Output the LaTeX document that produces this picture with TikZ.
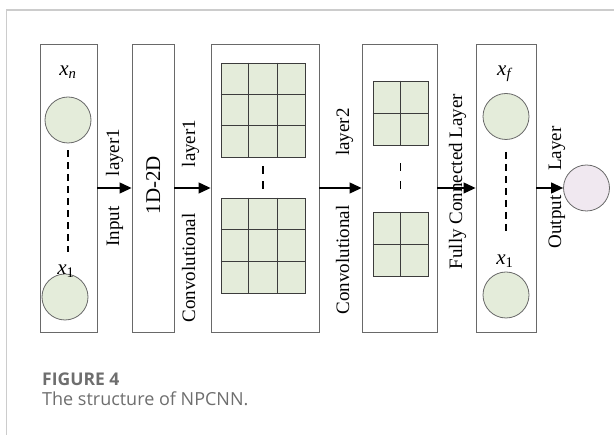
\documentclass[tikz,border=0pt]{standalone}
\usepackage{fontspec}
\setmainfont{Liberation Serif}
\newfontfamily\capfont{Open Sans}
\usetikzlibrary{positioning,calc,arrows.meta}

\definecolor{cellgreen}{RGB}{228,236,218}
\definecolor{outpink}{RGB}{240,232,240}
\definecolor{boxgray}{RGB}{105,105,105}
\definecolor{gridgray}{RGB}{60,60,60}
\definecolor{framegray}{RGB}{204,204,204}
\definecolor{capgray}{RGB}{110,110,110}

\begin{document}
\begin{tikzpicture}[x=1pt, y=-1pt,
    layerbox/.style={rectangle, draw=boxgray, line width=0.9pt, minimum height=288pt, inner sep=0},
    neuron/.style={circle, draw=boxgray, fill=cellgreen, line width=0.8pt, minimum size=46pt, inner sep=0},
    fmap/.style={rectangle, draw=gridgray, fill=cellgreen, line width=0.8pt, inner sep=0},
    vlabel/.style={rotate=90, anchor=base, inner sep=0, font=\fontsize{19}{19}\selectfont},
    varlabel/.style={inner sep=0, font=\fontsize{21}{21}\selectfont},
    flow/.style={-{Triangle[length=12pt,width=11pt]}, line width=1.2pt},
    elide/.style={draw=black, line width=1.1pt, dash pattern=on 7pt off 5pt}]

\useasboundingbox (0,0) rectangle (614,435);

% Page frame
\draw[framegray, line width=1.5pt] (6.5,435) -- (6.5,10) -- (614,10);

% Layers
\node[layerbox, minimum width=57pt] (input) at (68.5,188) {};
\node[layerbox, minimum width=42pt] (reshape) at (153,188) {};
\node[layerbox, minimum width=108pt] (conv1) at (265,188) {};
\node[layerbox, minimum width=75pt] (conv2) at (399.5,188) {};
\node[layerbox, minimum width=60pt] (fc) at (506,188) {};

% Input neurons
\node[neuron] (inTop) at (68,120) {};
\node[neuron] (inBot) at (65,297) {};
\node[varlabel] (xn) at (68,72) {\textit{x}\textsubscript{\textit{n}}};
\node[varlabel] (xa) at (66,271) {\textit{x}\textsubscript{1}};
\draw[elide, shorten <=7pt, shorten >=12pt] (inTop.south) -- (inTop.south |- xa.north);

% Convolutional layer1 maps (3x3)
\node[fmap, minimum width=84pt, minimum height=94pt] (mapA) at (263,110) {};
\node[fmap, minimum width=84pt, minimum height=95pt] (mapB) at (263,245.5) {};
\foreach \m in {mapA,mapB}
  \foreach \k in {1,2} {
    \draw[gridgray, line width=0.8pt] ($(\m.north west)!\k/3!(\m.north east)$) -- ($(\m.south west)!\k/3!(\m.south east)$);
    \draw[gridgray, line width=0.8pt] ($(\m.north west)!\k/3!(\m.south west)$) -- ($(\m.north east)!\k/3!(\m.south east)$);
  }
\draw[elide, dash pattern=on 8pt off 7pt, shorten <=9pt, shorten >=9pt] (mapA.south) -- (mapB.north);

% Convolutional layer2 maps (2x2)
\node[fmap, minimum width=55pt, minimum height=64pt] (mapC) at (400.5,113) {};
\node[fmap, minimum width=55pt, minimum height=64pt] (mapD) at (400.5,244) {};
\foreach \m in {mapC,mapD} {
  \draw[gridgray, line width=0.8pt] (\m.north) -- (\m.south);
  \draw[gridgray, line width=0.8pt] (\m.west) -- (\m.east);
}
\draw[elide, dash pattern=on 8pt off 10pt, shorten <=18pt, shorten >=23pt] (mapC.south) -- (mapD.north);

% Fully connected neurons
\node[neuron] (fcTop) at (506,116.5) {};
\node[neuron] (fcBot) at (506,295) {};
\node[varlabel] (xf) at (505,74) {\textit{x}\textsubscript{\textit{f}}};
\node[varlabel] (xb) at (505,261) {\textit{x}\textsubscript{1}};
\draw[elide, shorten <=12pt, shorten >=22pt] (fcTop.south) -- (fcTop.south |- xb.north);

% Output neuron
\node[neuron, fill=outpink] (out) at (586.5,188) {};

% Layer names
\node[vlabel] (lblIn) at (119,226.5) {Input};
\node[vlabel] (lblInL) at (119,152.5) {layer1};
\node[vlabel, font=\fontsize{21}{21}\selectfont] (lblRe) at (160,185) {1D-2D};
\node[vlabel] (lblCa) at (195,268) {Convolutional};
\node[vlabel] (lblCaL) at (195,143.5) {layer1};
\node[vlabel] (lblCb) at (349,260) {Convolutional};
\node[vlabel] (lblCbL) at (349,132) {layer2};
\node[vlabel] (lblFc) at (462,181.5) {Fully Connected Layer};
\node[vlabel] (lblOut) at (561,222) {Output};
\node[vlabel] (lblOutL) at (561,148.5) {Layer};

% Connections
\draw[flow] (input.east) -- (reshape.west);
\draw[flow] (reshape.east) -- (conv1.west);
\draw[flow] (conv1.east) -- (conv2.west);
\draw[flow] (conv2.east) -- (fc.west);
\draw[flow] (fc.east) -- (out.west);

% Caption
\node[anchor=base west, inner sep=0, text=capgray, font=\capfont\bfseries\fontsize{17.5}{17.5}\selectfont] (figno) at (42,386) {FIGURE 4};
\node[anchor=base west, inner sep=0, text=capgray, font=\capfont\fontsize{18}{18}\selectfont] (caption) at (42,406) {The structure of NPCNN.};

\end{tikzpicture}
\end{document}
